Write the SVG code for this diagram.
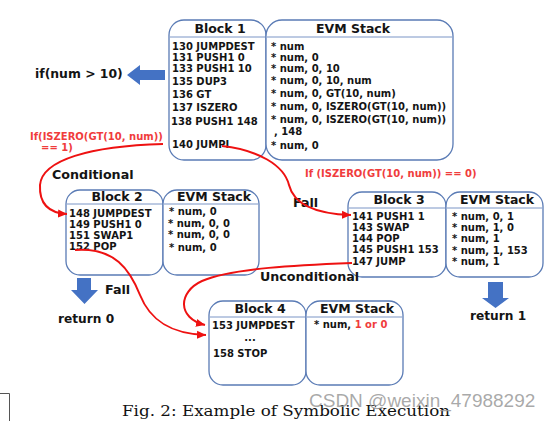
<svg xmlns="http://www.w3.org/2000/svg" width="554" height="421" viewBox="0 0 554 421">
<defs>
<style>
.box{fill:#fff;stroke:#5a7bb5;stroke-width:1.3}
.sep{stroke:#7a95c6;stroke-width:1}
.t{font-family:"DejaVu Sans",sans-serif;font-weight:bold;font-size:10px;fill:#141414}
.ttl{font-family:"DejaVu Sans",sans-serif;font-weight:bold;font-size:12.5px;fill:#141414}
.lbl{font-family:"DejaVu Sans",sans-serif;font-weight:bold;font-size:12.7px;fill:#141414}
.red{fill:#f03c3c}
.rl{fill:none;stroke:#ee1111;stroke-width:2}
.barrow{fill:#4472c4}
</style>
<marker id="ah" markerUnits="userSpaceOnUse" markerWidth="10" markerHeight="10" refX="9" refY="5" orient="auto">
<path d="M0,1 L9,5 L0,9 Z" fill="#ee1111"/>
</marker>
</defs>
<rect width="554" height="421" fill="#fff"/>

<!-- page artefacts -->
<path d="M0 393.5 H9.5 V421" fill="none" stroke="#555" stroke-width="1"/>

<!-- Block 1 -->
<g id="block1">
<rect class="box" x="169" y="20" width="97" height="140" rx="15"/>
<line class="sep" x1="170" y1="37" x2="265" y2="37"/>
<text class="ttl" x="220" y="33" text-anchor="middle">Block 1</text>
<text class="t" x="172" y="50">130 JUMPDEST</text>
<text class="t" x="172" y="61">131 PUSH1 0</text>
<text class="t" x="172" y="72">133 PUSH1 10</text>
<text class="t" x="172" y="85">135 DUP3</text>
<text class="t" x="172" y="98">136 GT</text>
<text class="t" x="172" y="111">137 ISZERO</text>
<text class="t" x="171" y="125">138 PUSH1 148</text>
<text class="t" x="172" y="148">140 JUMPI</text>
</g>
<g id="stack1">
<rect class="box" x="266" y="20" width="187" height="140" rx="16"/>
<line class="sep" x1="267" y1="37" x2="452" y2="37"/>
<text class="ttl" x="353" y="33" text-anchor="middle">EVM Stack</text>
<text class="t" x="271" y="50">* num</text>
<text class="t" x="271" y="61">* num, 0</text>
<text class="t" x="271" y="72">* num, 0, 10</text>
<text class="t" x="271" y="84">* num, 0, 10, num</text>
<text class="t" x="271" y="97">* num, 0, GT(10, num)</text>
<text class="t" x="271" y="110">* num, 0, ISZERO(GT(10, num))</text>
<text class="t" x="271" y="123">* num, 0, ISZERO(GT(10, num))</text>
<text class="t" x="274" y="135">, 148</text>
<text class="t" x="271" y="149">* num, 0</text>
</g>

<!-- Block 2 -->
<g id="block2">
<rect class="box" x="66" y="190" width="97" height="85" rx="14"/>
<line class="sep" x1="67" y1="204" x2="162" y2="204"/>
<text class="ttl" x="117" y="201" text-anchor="middle">Block 2</text>
<text class="t" x="69" y="217">148 JUMPDEST</text>
<text class="t" x="69" y="228">149 PUSH1 0</text>
<text class="t" x="69" y="239">151 SWAP1</text>
<text class="t" x="69" y="250">152 POP</text>
</g>
<g id="stack2">
<rect class="box" x="163" y="190" width="96" height="85" rx="14"/>
<line class="sep" x1="164" y1="204" x2="258" y2="204"/>
<text class="ttl" x="214" y="201" text-anchor="middle">EVM Stack</text>
<text class="t" x="169" y="215">* num, 0</text>
<text class="t" x="168" y="227">* num, 0, 0</text>
<text class="t" x="168" y="238">* num, 0, 0</text>
<text class="t" x="169" y="251">* num, 0</text>
</g>

<!-- Block 3 -->
<g id="block3">
<rect class="box" x="348" y="192" width="98" height="85" rx="14"/>
<line class="sep" x1="349" y1="208" x2="445" y2="208"/>
<text class="ttl" x="399" y="204" text-anchor="middle">Block 3</text>
<text class="t" x="352" y="220">141 PUSH1 1</text>
<text class="t" x="352" y="231">143 SWAP</text>
<text class="t" x="352" y="242">144 POP</text>
<text class="t" x="352" y="253">145 PUSH1 153</text>
<text class="t" x="352" y="265">147 JUMP</text>
</g>
<g id="stack3">
<rect class="box" x="446" y="192" width="97" height="85" rx="14"/>
<line class="sep" x1="447" y1="208" x2="542" y2="208"/>
<text class="ttl" x="497" y="204" text-anchor="middle">EVM Stack</text>
<text class="t" x="452" y="220">* num, 0, 1</text>
<text class="t" x="452" y="231">* num, 1, 0</text>
<text class="t" x="452" y="242">* num, 1</text>
<text class="t" x="452" y="254">* num, 1, 153</text>
<text class="t" x="452" y="265">* num, 1</text>
</g>

<!-- Block 4 -->
<g id="block4">
<rect class="box" x="209" y="301" width="97" height="84" rx="14"/>
<line class="sep" x1="210" y1="317" x2="305" y2="317"/>
<text class="ttl" x="260" y="313" text-anchor="middle">Block 4</text>
<text class="t" x="212" y="329">153 JUMPDEST</text>
<text class="t" x="250" y="341" text-anchor="middle">...</text>
<text class="t" x="213" y="357">158 STOP</text>
</g>
<g id="stack4">
<rect class="box" x="306" y="301" width="97" height="84" rx="14"/>
<line class="sep" x1="307" y1="317" x2="402" y2="317"/>
<text class="ttl" x="357" y="313" text-anchor="middle">EVM Stack</text>
<text class="t" x="314" y="328">* num, <tspan class="red">1 or 0</tspan></text>
</g>

<!-- annotations -->
<g id="annotations">
<text x="35" y="78" font-family="DejaVu Sans, sans-serif" font-weight="bold" font-size="12.4" fill="#141414">if(num &gt; 10)</text>
<path class="barrow" d="M127 75 L140 65 L140 70 L165 70 L165 80 L140 80 L140 85 Z"/>
<text class="t red" x="30" y="140">If(ISZERO(GT(10, num))</text>
<text class="t red" x="41" y="151">== 1)</text>
<text class="t red" x="305" y="177" font-size="9.8">If (ISZERO(GT(10, num)) == 0)</text>
<text class="lbl" x="52" y="179">Conditional</text>
<text class="lbl" x="293" y="207">Fall</text>
<text class="lbl" x="105" y="294">Fall</text>
<text class="lbl" x="260" y="281">Unconditional</text>
<path class="barrow" d="M77 278 L91 278 L91 290 L98 290 L84.5 304 L71 290 L77 290 Z"/>
<text x="58" y="323" font-family="DejaVu Sans, sans-serif" font-weight="bold" font-size="12.2" fill="#141414">return 0</text>
<path class="barrow" d="M488 282 L503 282 L503 298 L509 298 L495.5 308 L482 298 L488 298 Z"/>
<text x="470" y="320" font-family="DejaVu Sans, sans-serif" font-weight="bold" font-size="12.2" fill="#141414">return 1</text>
</g>

<!-- connectors -->
<g id="connectors">
<path class="rl" d="M163 144 C90 146 42 160 40 185 C39 205 50 213 67 214" marker-end="url(#ah)"/>
<path class="rl" d="M222 146 C258 150 284 165 289 185 C294 205 318 214 351 215" marker-end="url(#ah)"/>
<path class="rl" d="M75 250 C115 247 130 270 140 295 C150 320 170 334 206 335" marker-end="url(#ah)"/>
<path class="rl" d="M352 263 C300 265 232 268 202 281 C178 292 177 318 205 325" marker-end="url(#ah)"/>
</g>

<text x="122" y="416" font-family="DejaVu Serif, serif" font-size="14" fill="#111" textLength="328" lengthAdjust="spacingAndGlyphs">Fig. 2: Example of Symbolic Execution</text>
<text x="309" y="407" font-family="Liberation Sans, Arial, sans-serif" font-size="19" fill="#9a9a9a" fill-opacity="0.85">CSDN @weixin_47988292</text>
</svg>
